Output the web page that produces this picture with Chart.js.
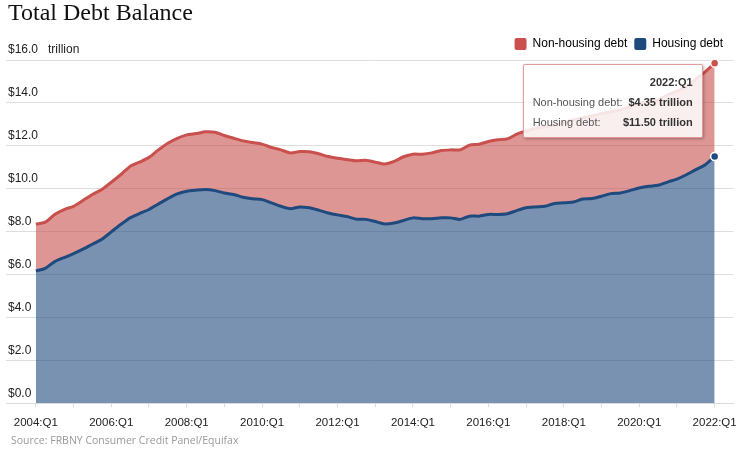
<!DOCTYPE html>
<html>
<head>
<meta charset="utf-8">
<script src="https://cdn.jsdelivr.net/npm/chart.js@4"></script>
<style>
  body { margin: 0; background: #fff; }
  #wrap { position: relative; width: 739px; height: 452px; overflow: hidden; }
  #title { position: absolute; left: 8px; top: 0; font: 24px/24px "Liberation Serif", serif; color: #111; }
  #source { position: absolute; left: 11px; top: 433px; font: 10.5px/14px "Open Sans", sans-serif; color: #999; }
  #tip {
    position: absolute; box-sizing: border-box; width: 180px; padding: 7px 9px 5px;
    background: rgba(255,255,255,0.85); border: 1px solid rgba(200,80,76,0.55);
    border-radius: 2px; box-shadow: 1px 1px 3px rgba(0,0,0,0.3);
    font: 11px/20px "Liberation Sans", Arial, sans-serif; color: #555; pointer-events: none;
    white-space: nowrap;
  }
  #tip .hd { text-align: right; font-weight: bold; color: #333; }
  #tip .row { display: flex; justify-content: space-between; }
  #tip b { color: #333; }
</style>
</head>
<body>
<div id="wrap">
  <div id="title">Total Debt Balance</div>
  <canvas id="debtChart"></canvas>
  <div id="tip"></div>
  <div id="source">Source: FRBNY Consumer Credit Panel/Equifax</div>
</div>
<script>
// quarters 2004:Q1 .. 2022:Q1, trillions of dollars
const years = [2004, 2005, 2006, 2007, 2008, 2009, 2010, 2011, 2012, 2013,
  2014, 2015, 2016, 2017, 2018, 2019, 2020, 2021, 2022];
const quarterNames = ['Q1', 'Q2', 'Q3', 'Q4'];

const housingDebt = [
  6.17, 6.29, 6.60, 6.79, 6.97, 7.18, 7.41, 7.64, 7.99, 8.33,
  8.64, 8.84, 9.03, 9.29, 9.54, 9.76, 9.88, 9.93, 9.96, 9.91,
  9.80, 9.73, 9.60, 9.53, 9.49, 9.34, 9.18, 9.07, 9.15, 9.11,
  9.00, 8.87, 8.78, 8.70, 8.58, 8.57, 8.47, 8.36, 8.40, 8.52,
  8.64, 8.60, 8.60, 8.64, 8.64, 8.57, 8.72, 8.72, 8.80, 8.80,
  8.83, 8.98, 9.11, 9.15, 9.18, 9.31, 9.34, 9.38, 9.52, 9.54,
  9.65, 9.77, 9.80, 9.91, 10.03, 10.11, 10.16, 10.31, 10.45, 10.65,
  10.89, 11.12, 11.50
];

const nonHousingDebt = [
  2.18, 2.15, 2.20, 2.24, 2.21, 2.27, 2.32, 2.32, 2.31, 2.32,
  2.40, 2.40, 2.43, 2.52, 2.58, 2.59, 2.63, 2.64, 2.69, 2.72,
  2.68, 2.62, 2.63, 2.62, 2.59, 2.58, 2.63, 2.60, 2.58, 2.61,
  2.63, 2.63, 2.64, 2.66, 2.72, 2.76, 2.77, 2.79, 2.87, 2.97,
  2.97, 3.01, 3.07, 3.14, 3.17, 3.24, 3.31, 3.35, 3.40, 3.48,
  3.49, 3.56, 3.58, 3.67, 3.71, 3.66, 3.75, 3.82, 3.79, 3.85,
  3.86, 3.82, 3.87, 3.91, 3.95, 3.95, 3.97, 4.06, 4.10, 4.10,
  4.21, 4.33, 4.35
];

const yTicks = [0, 2, 4, 6, 8, 10, 12, 14, 16];

const quarterLabels = [];
years.forEach(y => quarterNames.forEach(q => quarterLabels.push(y + ':' + q)));
quarterLabels.length = housingDebt.length;

const last = housingDebt.length - 1;
const RED = '#c9504c';
const BLUE = '#1f4a7e';

const toPoints = arr => arr.map((v, i) => ({ x: i, y: v }));
const lastDot = ctx => (ctx.dataIndex === last ? 4 : 0);

function externalTip({ chart, tooltip }) {
  const el = document.getElementById('tip');
  if (tooltip.opacity === 0 || !tooltip.dataPoints) { el.style.display = 'none'; return; }
  const i = tooltip.dataPoints[0].dataIndex;
  el.innerHTML =
    '<div class="hd">' + quarterLabels[i] + '</div>' +
    '<div class="row"><span>Non-housing debt:</span><b>$' + nonHousingDebt[i].toFixed(2) + ' trillion</b></div>' +
    '<div class="row"><span>Housing debt:</span><b>$' + housingDebt[i].toFixed(2) + ' trillion</b></div>';
  el.style.display = 'block';
  const topY = Math.min(...tooltip.dataPoints.map(p => p.element.y));
  el.style.left = (tooltip.caretX - 192) + 'px';
  el.style.top = (topY + 1) + 'px';
}

// nudge the legend a little left of the canvas edge
const legendShift = {
  id: 'legendShift',
  afterLayout(chart) {
    chart.legend.left -= 8;
    chart.legend.right -= 8;
  }
};

const chart = new Chart(document.getElementById('debtChart'), {
  type: 'line',
  data: {
    datasets: [{
      label: 'Housing debt',
      data: toPoints(housingDebt),
      borderColor: BLUE,
      backgroundColor: 'rgba(31,74,126,0.6)',
      borderWidth: 3,
      fill: 'origin',
      tension: 0.25,
      pointRadius: lastDot,
      pointBackgroundColor: BLUE,
      pointBorderColor: '#fff',
      pointBorderWidth: 1.5,
      pointHoverRadius: lastDot,
      pointHoverBackgroundColor: BLUE,
      pointHoverBorderColor: '#fff',
      pointHoverBorderWidth: 1.5
    }, {
      label: 'Non-housing debt',
      data: toPoints(nonHousingDebt),
      borderColor: RED,
      backgroundColor: 'rgba(200,80,76,0.6)',
      borderWidth: 3,
      fill: '-1',
      tension: 0.25,
      pointRadius: lastDot,
      pointBackgroundColor: RED,
      pointBorderColor: '#fff',
      pointBorderWidth: 1.5,
      pointHoverRadius: lastDot,
      pointHoverBackgroundColor: RED,
      pointHoverBorderColor: '#fff',
      pointHoverBorderWidth: 1.5
    }]
  },
  options: {
    responsive: true,
    maintainAspectRatio: false,
    animation: false,
    events: [],
    layout: { padding: { top: 31, left: 6, right: 1, bottom: 13 } },
    interaction: { mode: 'index', intersect: false },
    scales: {
      x: {
        type: 'linear',
        min: -3.165,
        max: 74.0,
        afterBuildTicks: scale => {
          scale.ticks = quarterLabels.map((l, i) => i).filter(i => i % 4 === 0).map(v => ({ value: v }));
        },
        afterFit: scale => { scale.paddingLeft = 0; scale.paddingRight = 0; },
        ticks: {
          autoSkip: false,
          maxRotation: 0,
          padding: 9,
          color: '#222',
          font: { family: '"Liberation Sans", Arial, sans-serif', size: 11.5 },
          callback: v => (v % 8 === 0 ? quarterLabels[v] : '')
        },
        grid: { drawOnChartArea: false, drawTicks: true, tickLength: 4, color: '#dcdcdc' },
        border: { color: '#dcdcdc' }
      },
      y: {
        stacked: true,
        min: 0,
        max: 16,
        afterBuildTicks: scale => { scale.ticks = yTicks.map(v => ({ value: v })); },
        afterFit: scale => { scale.width = 0; },
        ticks: {
          mirror: true,
          padding: 2,
          labelOffset: -10,
          color: '#222',
          font: { family: '"Liberation Sans", Arial, sans-serif', size: 12 },
          callback: v => '$' + v.toFixed(1) + (v === 16 ? '   trillion' : '')
        },
        grid: { drawTicks: false, color: '#dedede' },
        border: { display: false }
      }
    },
    plugins: {
      legend: {
        position: 'top',
        align: 'end',
        reverse: true,
        labels: {
          boxWidth: 12,
          boxHeight: 12,
          padding: 7,
          color: '#222',
          font: { family: '"Liberation Sans", Arial, sans-serif', size: 12 },
          generateLabels: c => c.data.datasets.map((ds, i) => ({
            text: ds.label,
            fillStyle: ds.borderColor,
            strokeStyle: ds.borderColor,
            lineWidth: 0,
            borderRadius: 2,
            datasetIndex: i
          }))
        }
      },
      tooltip: {
        enabled: false,
        external: externalTip
      }
    }
  },
  plugins: [legendShift]
});

const active = [{ datasetIndex: 0, index: last }, { datasetIndex: 1, index: last }];
chart.setActiveElements(active);
chart.tooltip.setActiveElements(active, { x: 0, y: 0 });
chart.update();
</script>
</body>
</html>
